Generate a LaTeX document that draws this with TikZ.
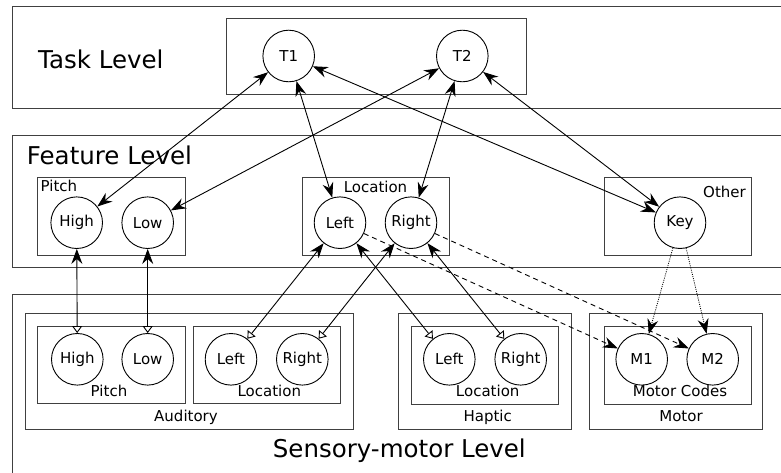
\documentclass[tikz,border=0pt]{standalone}
\usepackage{fontspec}
\setmainfont{DejaVu Sans}
\usetikzlibrary{arrows.meta,fit}
\definecolor{framegray}{HTML}{404040}
\tikzset{
  frame/.style={draw=framegray, line width=0.9pt, rectangle, inner sep=0pt},
  unit/.style={draw=black, line width=0.9pt, circle, fill=white, minimum size=51.6pt,
    inner sep=0pt, font=\fontsize{15}{18}\selectfont},
  biglabel/.style={font=\fontsize{24.5}{29}\selectfont, inner sep=0pt, anchor=base west},
  boxlabel/.style={font=\fontsize{15}{18}\selectfont, inner sep=0pt, anchor=base},
  link/.style={line width=0.9pt,
    arrows={Stealth[length=15pt,width=11pt,inset=5pt]-Stealth[length=15pt,width=11pt,inset=5pt]}},
  ground/.style={line width=0.9pt,
    arrows={Stealth[length=15pt,width=11pt,inset=5pt]-Triangle[open,length=7pt,width=10pt,fill=white]}},
  motorlink/.style={line width=0.9pt, dash pattern=on 5pt off 4pt,
    arrows={-Stealth[length=15pt,width=11pt,inset=5pt]}},
  keylink/.style={line width=0.8pt, dash pattern=on 1pt off 1.2pt,
    arrows={-Stealth[length=15pt,width=11pt,inset=5pt]}},
}
\begin{document}
\begin{tikzpicture}[x=1pt,y=-1pt]
\useasboundingbox (0,0) rectangle (781,473);
\clip (0,0) rectangle (781,473);

% level frames
\node[frame, fit={(12.7,6) (800,108)}] (taskL) {};
\node[frame, fit={(12.7,135) (800,267.7)}] (featL) {};
\node[frame, fit={(12.7,294) (800,500)}] (sensL) {};
\node[biglabel] (taskT) at (38,68.3) {Task Level};
\node[biglabel] (featT) at (26.7,165) {Feature Level};
\node[biglabel] (sensT) at (272.7,457.5) {Sensory-motor Level};

% task level
\node[frame, fit={(226,18.3) (526,94.3)}] (taskbox) {};
\node[unit] (T1) at (288.7,56) {T1};
\node[unit] (T2) at (462.3,56) {T2};

% feature level
\node[frame, fit={(37.7,177.7) (185.3,255)}] (pitchF) {};
\node[frame, fit={(302.3,177.7) (449.3,255)}] (locF) {};
\node[frame, fit={(604,177.7) (751.3,255)}] (otherF) {};
\node[boxlabel, anchor=base west] (pitchFT) at (40.5,192) {Pitch};
\node[boxlabel] (locFT) at (375.5,193) {Location};
\node[boxlabel, anchor=base east] (otherFT) at (746,197) {Other};
\node[unit] (fHigh) at (76.7,222.7) {High};
\node[unit] (fLow) at (147.7,222.7) {Low};
\node[unit] (fLeft) at (340,222.7) {Left};
\node[unit] (fRight) at (411,222.7) {Right};
\node[unit] (key) at (680,222.7) {Key};

% sensory-motor level
\node[frame, fit={(25.7,313.3) (353.3,429)}] (audbox) {};
\node[frame, fit={(37.7,326) (185.3,403.3)}] (pitchA) {};
\node[frame, fit={(193.3,326) (340.7,403.3)}] (locA) {};
\node[frame, fit={(398.3,313.3) (571,429)}] (hapbox) {};
\node[frame, fit={(411,326) (558.3,404)}] (locH) {};
\node[frame, fit={(589.3,313.3) (762.3,429)}] (motbox) {};
\node[frame, fit={(604,326) (751.3,404)}] (codesM) {};
\node[boxlabel] (audT) at (186,421.7) {Auditory};
\node[boxlabel] (pitchAT) at (109,396.7) {Pitch};
\node[boxlabel] (locAT) at (269.3,396.7) {Location};
\node[boxlabel] (hapT) at (487.7,421.7) {Haptic};
\node[boxlabel] (locHT) at (487.7,396.7) {Location};
\node[boxlabel] (motT) at (681,421.7) {Motor};
\node[boxlabel] (codesT) at (680,396.7) {Motor Codes};
\node[unit] (aHigh) at (77.3,359.3) {High};
\node[unit] (aLow) at (147.7,359.3) {Low};
\node[unit] (aLeft) at (231,359.3) {Left};
\node[unit] (aRight) at (302.3,359.3) {Right};
\node[unit] (hLeft) at (449.3,359.3) {Left};
\node[unit] (hRight) at (520.7,359.3) {Right};
\node[unit] (M1) at (641.7,359.3) {M1};
\node[unit] (M2) at (712.7,359.3) {M2};

% task <-> feature
\draw[link] (T1) -- (fHigh);
\draw[link] (T1) -- (fLeft);
\draw[link] (T1) -- (key);
\draw[link] (T2) -- (fLow);
\draw[link] (T2) -- (fRight);
\draw[link] (T2) -- (key);

% feature <-> sensory
\draw[ground] (fHigh) -- (aHigh);
\draw[ground] (fLow) -- (aLow);
\draw[ground] (fLeft) -- (aLeft);
\draw[ground] (fRight) -- (aRight);
\draw[ground] (fLeft) -- (hLeft);
\draw[ground] (fRight) -- (hRight);

% feature -> motor
\draw[motorlink] (fLeft) -- (M1);
\draw[motorlink] (fRight) -- (M2);
\draw[keylink] (key) -- (M1);
\draw[keylink] (key) -- (M2);
\end{tikzpicture}
\end{document}
